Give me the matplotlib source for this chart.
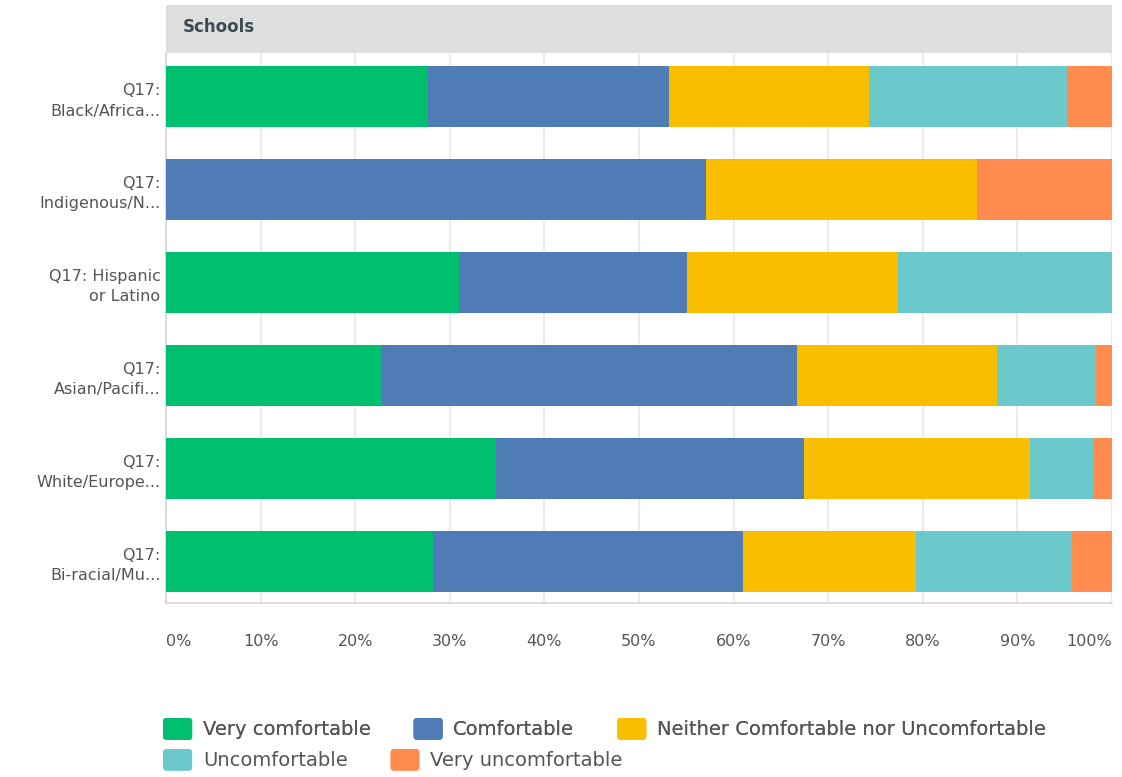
import numpy as np
import matplotlib.pyplot as plt
from matplotlib.patches import Patch, FancyBboxPatch
from matplotlib.legend_handler import HandlerPatch

plt.rcParams['font.family'] = ['DejaVu Sans']

# data (percent of respondents)
groups = ['Q17:\nBlack/Africa...', 'Q17:\nIndigenous/N...', 'Q17: Hispanic\nor Latino',
          'Q17:\nAsian/Pacifi...', 'Q17:\nWhite/Europe...', 'Q17:\nBi-racial/Mu...']
answers = ['Very comfortable', 'Comfortable', 'Neither Comfortable nor Uncomfortable',
           'Uncomfortable', 'Very uncomfortable']
very_comf = [27.7, 0.0, 31.0, 22.8, 34.9, 28.2]
comf = [25.5, 57.1, 24.1, 43.9, 32.5, 32.8]
neither = [21.1, 28.6, 22.3, 21.1, 23.9, 18.3]
uncomf = [20.9, 0.0, 22.6, 10.5, 6.7, 16.5]
very_uncomf = [4.8, 14.3, 0.0, 1.7, 2.0, 4.2]
colors = ['#00bf6f', '#507cb6', '#f9be00', '#6bc8cd', '#ff8b4f']
pct_ticks = np.arange(0, 101, 10)

W, H = 1122, 777
fig = plt.figure(figsize=(W / 100, H / 100), dpi=100)

# main plot area
ax = fig.add_axes([166 / W, 1 - 603 / H, 946 / W, 550 / H])
y = np.arange(len(groups))
left = np.zeros(len(groups))
for vals, c, name in zip([very_comf, comf, neither, uncomf, very_uncomf], colors, answers):
    ax.barh(y, vals, left=left, height=0.66, color=c, label=name, zorder=3)
    left += np.array(vals)

ax.set_xlim(0, 100)
ax.set_ylim(5.45, -0.47)
ax.set_yticks(y)
ax.set_yticklabels(groups, fontsize=11.5, color='#555555', linespacing=1.45)
ax.set_xticks(pct_ticks)
xl = ax.set_xticklabels([f'{t}%' for t in pct_ticks], fontsize=11.5, color='#555555')
xl[0].set_ha('left')
xl[-1].set_ha('right')
ax.tick_params(axis='both', length=0)
ax.tick_params(axis='x', pad=22)
ax.tick_params(axis='y', pad=4)
ax.grid(axis='x', color='#ebebeb', linewidth=1.5, zorder=0)
for s in ['top', 'right']:
    ax.spines[s].set_visible(False)
for s in ['left', 'bottom']:
    ax.spines[s].set_color('#d5d5d5')
    ax.spines[s].set_linewidth(1.2)

# grey header band
hax = fig.add_axes([166 / W, 1 - 53 / H, 946 / W, 48 / H])
hax.set_facecolor('#dedede')
hax.set_xticks([])
hax.set_yticks([])
for s in hax.spines.values():
    s.set_visible(False)
hax.text(17 / 946, 0.55, 'Schools', fontsize=12, fontweight='bold',
         color='#3d4a52', va='center', ha='left', transform=hax.transAxes)


class RoundBox(HandlerPatch):
    # legend swatches with rounded corners
    def create_artists(self, legend, orig_handle, xdescent, ydescent,
                       width, height, fontsize, trans):
        p = FancyBboxPatch((-xdescent, -ydescent), width, height,
                           boxstyle='round,pad=0,rounding_size=2.5',
                           facecolor=orig_handle.get_facecolor(),
                           edgecolor='none', transform=trans)
        return [p]


# legend laid out as two rows
handles = [Patch(facecolor=c, edgecolor='none') for c in colors]
common = dict(loc='upper left', frameon=False, fontsize=14, handlelength=1.5,
              handleheight=1.35, handletextpad=0.55, columnspacing=2.2,
              borderpad=0, borderaxespad=0, labelcolor='#555555',
              handler_map={Patch: RoundBox()})
leg1 = fig.legend(handles[:3], answers[:3], ncol=3,
                  bbox_to_anchor=(163 / W, 1 - 718 / H), **common)
fig.add_artist(leg1)
fig.legend(handles[3:], answers[3:], ncol=2,
           bbox_to_anchor=(163 / W, 1 - 749 / H), **common)

fig.savefig('out.png', dpi=100)
